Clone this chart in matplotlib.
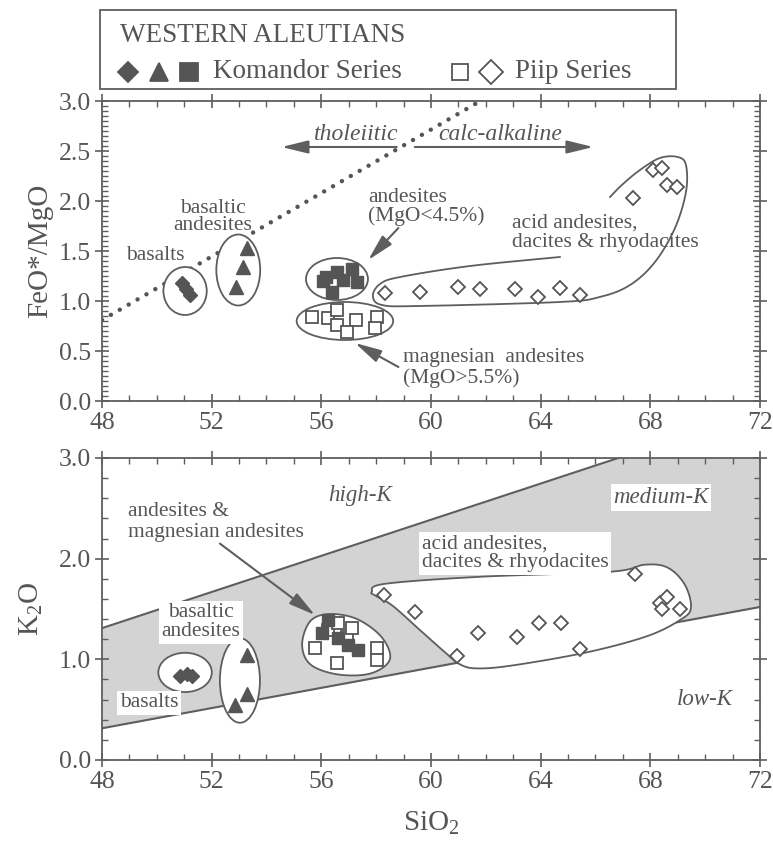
import numpy as np
import matplotlib
matplotlib.use("Agg")
import matplotlib.pyplot as plt
from matplotlib.patches import Ellipse, Rectangle, Polygon
from matplotlib.lines import Line2D
from matplotlib.ticker import MultipleLocator, FormatStrFormatter

plt.rcParams['font.family'] = ['Liberation Serif', 'DejaVu Serif']
plt.rcParams['mathtext.fontset'] = 'custom'
plt.rcParams['mathtext.rm'] = 'Liberation Serif'
plt.rcParams['mathtext.it'] = 'Liberation Serif:italic'

INK = '#555555'
LINE = '#5e5e5e'
SHADE = '#d3d3d3'

# ---- top panel: FeO*/MgO vs SiO2 ----
bas_si_a = [50.9, 51.05, 51.2]
bas_fe = [1.18, 1.12, 1.06]
ba_si_a = [53.28, 53.13, 52.88]
ba_fe = [1.53, 1.34, 1.14]
and_si_a = [56.17, 56.57, 57.12, 56.79, 57.3, 56.39, 56.05]
and_fe = [1.24, 1.29, 1.32, 1.21, 1.19, 1.09, 1.20]
mga_si_a = [55.65, 56.25, 56.58, 56.58, 57.26, 56.92, 58.02, 57.96]
mga_fe = [0.84, 0.83, 0.91, 0.76, 0.81, 0.69, 0.84, 0.73]
acid_si_a = [58.32, 59.6, 61.0, 61.79, 63.06, 63.91, 64.7, 65.43,
             67.38, 68.11, 68.41, 68.59, 68.96]
acid_fe = [1.08, 1.09, 1.14, 1.12, 1.12, 1.04, 1.13, 1.06,
           2.03, 2.31, 2.33, 2.16, 2.14]
div_si = [48.0, 61.8]
div_fe = [0.81, 3.0]

# ---- bottom panel: K2O vs SiO2 ----
bas_si_b = [50.85, 51.1, 51.3]
bas_k = [0.83, 0.85, 0.83]
ba_si_b = [53.28, 53.3, 52.85]
ba_k = [1.04, 0.66, 0.55]
and_si_b = [56.25, 56.01, 56.62, 56.97, 57.35]
and_k = [1.39, 1.26, 1.21, 1.14, 1.09]
mga_si_b = [55.77, 56.25, 56.62, 56.92, 57.11, 56.56, 58.02, 58.02]
mga_k = [1.11, 1.29, 1.36, 1.22, 1.31, 0.96, 1.11, 0.99]
acid_si_b = [58.28, 59.42, 60.96, 61.72, 63.15, 63.95, 64.74, 65.43,
             67.44, 68.35, 68.6, 68.41, 69.08]
acid_k = [1.64, 1.47, 1.03, 1.26, 1.22, 1.36, 1.36, 1.10,
          1.85, 1.56, 1.62, 1.50, 1.50]
hk_si = [48.0, 66.83]
hk_k = [1.31, 3.0]
lk_si = [48.0, 72.0]
lk_k = [0.315, 1.52]

# envelope outlines (field boundaries)
acid_env_a = [(64.7, 1.44), (61.42, 1.35), (58.87, 1.24), (58.14, 1.17), (57.88, 1.05),
              (58.21, 0.96), (59.6, 0.95), (64.7, 0.99), (66.16, 1.04), (67.26, 1.16),
              (68.17, 1.39), (68.9, 1.73), (69.3, 2.09), (69.3, 2.36), (69.0, 2.44),
              (68.35, 2.43), (67.62, 2.31), (66.96, 2.16), (66.53, 2.04)]
acid_env_b = [(57.84, 1.67), (58.32, 1.75), (61.79, 1.82), (66.53, 1.87), (67.8, 1.94),
              (68.64, 1.91), (69.26, 1.74), (69.48, 1.51), (69.08, 1.39), (67.88, 1.23),
              (65.69, 1.07), (62.99, 0.94), (61.68, 0.91), (61.06, 0.95), (60.51, 1.07),
              (59.6, 1.29), (58.61, 1.53), (57.99, 1.63)]
and_env_b = [(55.6, 1.38), (56.3, 1.45), (57.3, 1.40), (58.2, 1.22), (58.5, 1.00),
             (57.8, 0.86), (56.6, 0.85), (55.6, 0.95), (55.3, 1.15)]


def smooth(pts, closed=False, n=24):
    p = np.asarray(pts, float)
    p = np.vstack([p[-1], p, p[0], p[1]]) if closed else np.vstack([p[0], p, p[-1]])
    out = []
    t = np.linspace(0, 1, n, endpoint=False)[:, None]
    for i in range(1, len(p) - 2):
        p0, p1, p2, p3 = p[i - 1], p[i], p[i + 1], p[i + 2]
        out.append(0.5 * (2 * p1 + (-p0 + p2) * t + (2 * p0 - 5 * p1 + 4 * p2 - p3) * t ** 2
                          + (-p0 + 3 * p1 - 3 * p2 + p3) * t ** 3))
    out.append(p[-2][None])
    return np.vstack(out)


def ell(ax, c, w, h, ang=0):
    ax.add_patch(Ellipse(c, w, h, angle=ang, fc='white', ec=LINE, lw=1.3, zorder=3))


def pts(ax, x, y, m, filled, ms):
    if filled:
        ax.plot(x, y, m, ms=ms, color=INK, mec=INK, ls='none', zorder=5)
    else:
        ax.plot(x, y, m, ms=ms, mfc='white', mec=INK, mew=1.3, ls='none', zorder=5)


def style(ax, ymaj, ymin, fmt):
    ax.set_xlim(48, 72)
    ax.xaxis.set_major_locator(MultipleLocator(4))
    ax.xaxis.set_minor_locator(MultipleLocator(1))
    ax.yaxis.set_major_locator(MultipleLocator(ymaj))
    ax.yaxis.set_minor_locator(MultipleLocator(ymin))
    ax.yaxis.set_major_formatter(FormatStrFormatter(fmt))
    ax.tick_params(which='both', top=True, right=True, colors=LINE, labelcolor=INK,
                   labelsize=18.5)
    ax.tick_params(which='major', direction='inout', length=10, width=1.2, pad=3)
    ax.tick_params(which='minor', direction='in', length=4.5, width=1.0)
    for s in ax.spines.values():
        s.set_color(LINE)
        s.set_linewidth(1.3)


fig = plt.figure(figsize=(7.73, 8.41), dpi=100)
W, H = 773, 841
ax1 = fig.add_axes([102 / W, (H - 401) / H, 658 / W, 300 / H])
ax2 = fig.add_axes([102 / W, (H - 760) / H, 658 / W, 302 / H])

lbl = dict(color=INK, fontsize=15.5, zorder=6)
wbox = dict(boxstyle='square,pad=0.12', fc='white', ec='none')
arw = dict(arrowstyle='-|>,head_length=0.9,head_width=0.22', color=LINE, lw=1.5,
           mutation_scale=18, shrinkA=0, shrinkB=0)

# ===== top panel =====
ax1.plot(div_si, div_fe, color=INK, lw=3.2, ls=(0, (0.01, 2.3)),
         dash_capstyle='round', zorder=2)
ell(ax1, (51.03, 1.10), 1.58, 0.48)
ell(ax1, (52.97, 1.31), 1.6, 0.71)
ell(ax1, (56.57, 1.22), 2.26, 0.42)
ell(ax1, (56.86, 0.80), 3.52, 0.38)
ea = smooth(acid_env_a)
ax1.plot(ea[:, 0], ea[:, 1], color=LINE, lw=1.3, zorder=3)

pts(ax1, bas_si_a, bas_fe, 'D', True, 7.5)
pts(ax1, ba_si_a, ba_fe, '^', True, 9.5)
pts(ax1, and_si_a, and_fe, 's', True, 9.0)
pts(ax1, mga_si_a, mga_fe, 's', False, 8.5)
pts(ax1, acid_si_a, acid_fe, 'D', False, 7.6)

ax1.text(49.93, 1.46, 'basalts', ha='center', va='center', **lbl)
ax1.text(52.05, 1.84, 'basaltic\nandesites', ha='center', va='center',
         linespacing=0.8, **lbl)
ax1.text(57.71, 1.94, 'andesites\n(MgO<4.5%)', ha='left', va='center',
         linespacing=0.95, **lbl)
ax1.text(62.94, 1.68, 'acid andesites,\ndacites & rhyodacites', ha='left',
         va='center', linespacing=1.0, **lbl)
ax1.text(58.99, 0.33, 'magnesian  andesites\n(MgO>5.5%)', ha='left', va='center',
         linespacing=1.15, **lbl)
ax1.text(57.27, 2.66, 'tholeiitic', ha='center', va='center', style='italic',
         color=INK, fontsize=17)
ax1.text(62.54, 2.66, 'calc-alkaline', ha='center', va='center', style='italic',
         color=INK, fontsize=17)
ax1.annotate('', xy=(54.55, 2.54), xytext=(58.75, 2.54), arrowprops=arw)
ax1.annotate('', xy=(65.92, 2.54), xytext=(59.41, 2.54), arrowprops=arw)
ax1.annotate('', xy=(57.71, 1.41), xytext=(58.81, 1.73), arrowprops=arw, zorder=6)
ax1.annotate('', xy=(57.23, 0.58), xytext=(58.81, 0.34), arrowprops=arw, zorder=6)

ax1.set_ylim(0, 3.0)
style(ax1, 0.5, 0.05, '%.1f')
ax1.set_ylabel('FeO*/MgO', fontsize=21, color=INK, labelpad=4)

# ===== bottom panel =====
xs = np.linspace(48, 72, 300)
ax2.fill_between(xs, np.interp(xs, lk_si, lk_k), np.interp(xs, hk_si, hk_k),
                 color=SHADE, lw=0, zorder=1)
ax2.plot(hk_si, hk_k, color=LINE, lw=1.5, zorder=2)
ax2.plot(lk_si, lk_k, color=LINE, lw=1.5, zorder=2)
eb = smooth(acid_env_b, closed=True)
ax2.add_patch(Polygon(eb, closed=True, fc='white', ec=LINE, lw=1.3, zorder=3))
ell(ax2, (51.03, 0.87), 1.95, 0.39)
ell(ax2, (53.03, 0.79), 1.46, 0.84)
ab = smooth(and_env_b, closed=True)
ax2.add_patch(Polygon(ab, closed=True, fc='white', ec=LINE, lw=1.3, zorder=3))

pts(ax2, bas_si_b, bas_k, 'D', True, 7.5)
pts(ax2, ba_si_b, ba_k, '^', True, 9.5)
pts(ax2, mga_si_b, mga_k, 's', False, 8.5)
pts(ax2, and_si_b, and_k, 's', True, 9.0)
pts(ax2, acid_si_b, acid_k, 'D', False, 6.8)

ax2.text(49.72, 0.57, 'basalts', ha='center', va='center', bbox=wbox, **lbl)
ax2.text(51.6, 1.37, 'basaltic\nandesites', ha='center', va='center',
         linespacing=1.0, bbox=wbox, **lbl)
ax2.text(48.96, 2.36, 'andesites &\nmagnesian andesites', ha='left', va='center',
         linespacing=1.15, **lbl)
ax2.text(59.66, 2.05, 'acid andesites,\ndacites & rhyodacites', ha='left',
         va='center', linespacing=0.95, bbox=wbox, **lbl)
ax2.text(57.4, 2.63, 'high-K', ha='center', va='center', style='italic',
         color=INK, fontsize=16.5)
ax2.text(68.39, 2.61, 'medium-K', ha='center', va='center', style='italic',
         color=INK, fontsize=16.5, bbox=wbox)
ax2.text(70.0, 0.60, 'low-K', ha='center', va='center', style='italic',
         color=INK, fontsize=16.5)
ax2.annotate('', xy=(55.77, 1.44), xytext=(52.3, 2.15), arrowprops=arw, zorder=6)

ax2.set_ylim(0, 3.0)
style(ax2, 1.0, 0.2, '%.1f')
ax2.set_ylabel(r'K$_2$O', fontsize=21, color=INK, labelpad=10)
ax2.set_xlabel(r'SiO$_2$', fontsize=21, color=INK, labelpad=12)

# ===== legend box =====
fig.patches.append(Rectangle((100 / W, (H - 89) / H), 576 / W, 79 / H,
                             transform=fig.transFigure, fc='white', ec=LINE, lw=1.3))
fig.text(120 / W, (H - 42) / H, 'WESTERN ALEUTIANS', fontsize=19.5, color=INK,
         va='baseline')
ly = (H - 72) / H
for x, m, ms, filled in [(128, 'D', 10, True), (159, '^', 13, True), (189, 's', 12.5, True),
                         (460, 's', 11, False), (491, 'D', 12, False)]:
    fig.lines.append(Line2D([x / W], [ly], marker=m, ms=ms, ls='none',
                            mfc=INK if filled else 'white', mec=INK, mew=1.3,
                            transform=fig.transFigure))
fig.text(213 / W, ly, 'Komandor Series', fontsize=19.5, color=INK, va='center')
fig.text(515 / W, ly, 'Piip Series', fontsize=19.5, color=INK, va='center')

fig.savefig('out.png', dpi=100)
